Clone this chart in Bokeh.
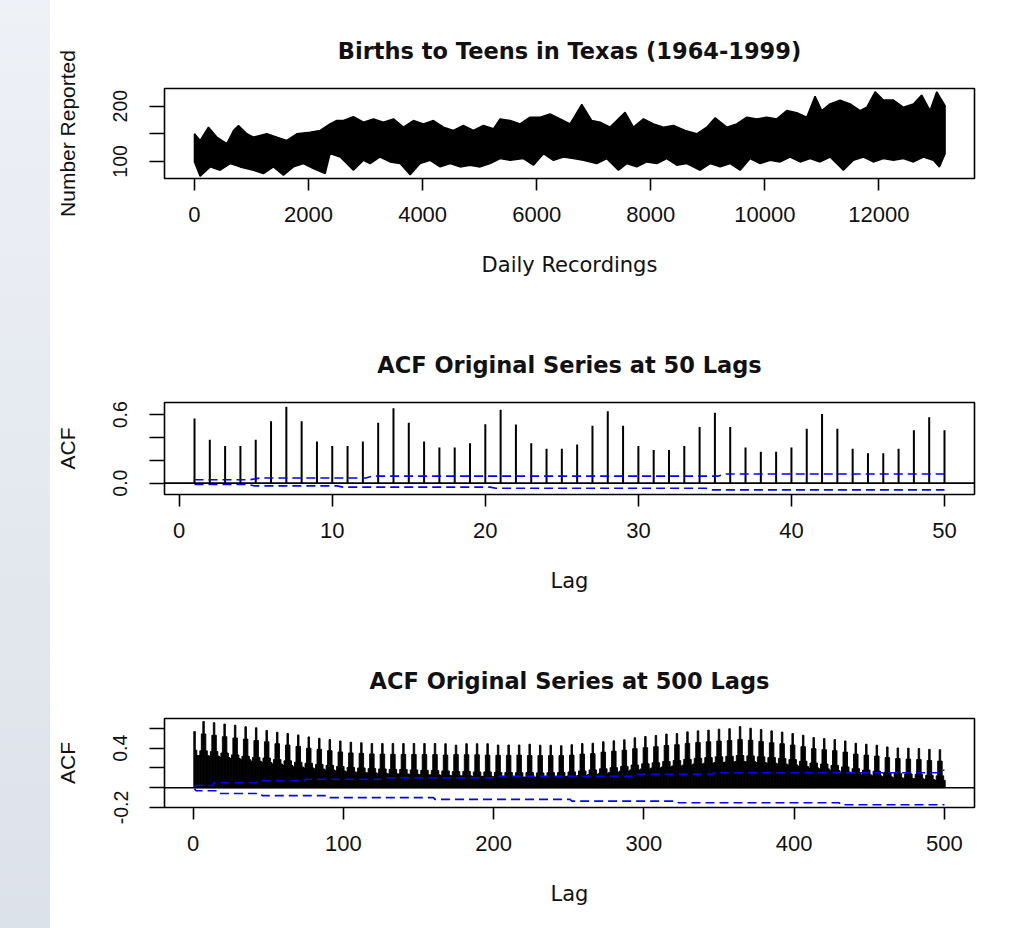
from bokeh.plotting import figure
from bokeh.layouts import row, column
from bokeh.models import Div, Span, FixedTicker, Range1d
from bokeh.embed import file_html
from bokeh.resources import INLINE

# ---------------- Data ----------------
# Top panel: daily teen births, read as upper / lower envelope of the dense series
up_day = [0, 100, 246, 392, 567, 684, 772, 918, 1034, 1268, 1444, 1619, 1794, 2028, 2203,
          2378, 2495, 2612, 2787, 2963, 3138, 3313, 3489, 3664, 3839, 4014, 4190, 4365,
          4540, 4715, 4891, 5066, 5241, 5358, 5534, 5709, 5884, 6060, 6235, 6410, 6585,
          6790, 6966, 7112, 7287, 7550, 7696, 7872, 8047, 8222, 8397, 8602, 8806, 8982,
          9128, 9332, 9508, 9683, 9858, 10033, 10209, 10384, 10559, 10734, 10880, 10997,
          11143, 11319, 11494, 11669, 11786, 11932, 12078, 12254, 12429, 12604, 12750,
          12896, 13013, 13159]
up_val = [150, 138, 162, 144, 132, 156, 165, 150, 144, 150, 144, 138, 150, 153, 156,
          168, 174, 174, 181, 171, 177, 171, 177, 162, 174, 168, 174, 162,
          156, 165, 156, 165, 159, 177, 174, 168, 180, 180, 186, 177, 168,
          203, 174, 171, 162, 189, 162, 177, 168, 162, 165, 156, 150, 162,
          179, 162, 168, 180, 177, 180, 177, 192, 188, 180, 218, 192,
          204, 211, 204, 192, 198, 226, 211, 211, 198, 204, 220,
          192, 226, 201]
lo_day = [0, 100, 275, 450, 626, 801, 1034, 1210, 1385, 1560, 1736, 1911, 2086, 2291,
          2378, 2554, 2671, 2787, 2963, 3080, 3255, 3430, 3606, 3781, 3956, 4132, 4307,
          4482, 4657, 4833, 5008, 5183, 5358, 5534, 5768, 5943, 6118, 6294, 6469, 6644,
          6819, 7053, 7229, 7433, 7579, 7754, 7930, 8105, 8280, 8456, 8631, 8865, 9040,
          9216, 9391, 9566, 9741, 9917, 10092, 10267, 10443, 10618, 10793, 10968, 11143,
          11377, 11552, 11728, 11903, 12078, 12254, 12429, 12604, 12779, 12954, 13060,
          13159]
lo_val = [99, 73, 90, 84, 96, 90, 84, 78, 90, 75, 90, 96, 87, 78,
          114, 108, 96, 84, 102, 96, 108, 99, 96, 76, 96, 102, 90,
          96, 90, 93, 90, 96, 105, 102, 105, 93, 114, 102, 108, 105,
          102, 96, 105, 84, 96, 90, 99, 96, 105, 93, 96, 84, 96,
          90, 96, 84, 105, 96, 102, 99, 108, 99, 105, 99, 108,
          84, 102, 108, 99, 105, 102, 105, 99, 108, 102, 90,
          114]

# Middle panel: ACF at lags 1..50
lags50 = list(range(1, 51))
acf50 = [0.568, 0.380, 0.325, 0.325, 0.380, 0.544, 0.670, 0.544, 0.366, 0.325,
         0.325, 0.366, 0.530, 0.658, 0.530, 0.366, 0.313, 0.313, 0.351, 0.518,
         0.644, 0.515, 0.351, 0.301, 0.301, 0.339, 0.503, 0.632, 0.503, 0.325,
         0.290, 0.290, 0.325, 0.492, 0.617, 0.492, 0.313, 0.275, 0.275, 0.313,
         0.477, 0.606, 0.477, 0.301, 0.263, 0.263, 0.301, 0.465, 0.579, 0.465]
ci50_up_lag = [1, 4.6, 5.3, 12.2, 12.6, 35.2, 35.6, 50]
ci50_up = [0.029, 0.029, 0.045, 0.045, 0.061, 0.061, 0.080, 0.080]
ci50_lo_lag = [1, 4.5, 4.9, 10.3, 10.7, 20.3, 20.7, 34.4, 34.8, 50]
ci50_lo = [-0.012, -0.012, -0.024, -0.024, -0.035, -0.035, -0.045, -0.045, -0.059, -0.059]

# Bottom panel: ACF at lags 1..500, read week by week
# peak at lag 7k (k = 1..71), shoulder at 7k+-1, mid at 7k+-2, low at 7k+-3 (k = 0..71)
peak500 = [0.670, 0.658, 0.644, 0.632, 0.617, 0.606, 0.579, 0.561, 0.548, 0.534,
           0.514, 0.500, 0.487, 0.473, 0.460, 0.455, 0.447, 0.447, 0.447, 0.447,
           0.447, 0.447, 0.447, 0.445, 0.430, 0.445, 0.445, 0.445, 0.432, 0.432,
           0.432, 0.440, 0.430, 0.430, 0.425, 0.435, 0.447, 0.450, 0.465, 0.475,
           0.485, 0.505, 0.518, 0.528, 0.543, 0.548, 0.565, 0.575, 0.582, 0.592,
           0.597, 0.618, 0.602, 0.589, 0.575, 0.563, 0.548, 0.531, 0.507, 0.497,
           0.487, 0.473, 0.450, 0.440, 0.430, 0.413, 0.402, 0.400, 0.396, 0.388,
           0.385]
shoulder500 = [0.568, 0.544, 0.530, 0.516, 0.503, 0.492, 0.477, 0.465, 0.445, 0.432,
               0.418, 0.400, 0.388, 0.375, 0.362, 0.352, 0.348, 0.342, 0.340, 0.338,
               0.338, 0.336, 0.336, 0.335, 0.330, 0.335, 0.334, 0.333, 0.330, 0.328,
               0.328, 0.330, 0.326, 0.325, 0.325, 0.325, 0.330, 0.340, 0.345, 0.360,
               0.370, 0.380, 0.395, 0.405, 0.415, 0.428, 0.435, 0.448, 0.457, 0.465,
               0.472, 0.478, 0.488, 0.480, 0.468, 0.455, 0.445, 0.432, 0.415, 0.395,
               0.385, 0.375, 0.360, 0.340, 0.330, 0.320, 0.305, 0.295, 0.290, 0.285,
               0.275, 0.270]
mid500 = [0.380, 0.373, 0.366, 0.351, 0.332, 0.318, 0.307, 0.300, 0.285, 0.272,
          0.258, 0.247, 0.236, 0.226, 0.215, 0.205, 0.200, 0.195, 0.190, 0.186,
          0.185, 0.180, 0.176, 0.175, 0.170, 0.163, 0.165, 0.160, 0.160, 0.155,
          0.154, 0.152, 0.153, 0.150, 0.152, 0.153, 0.160, 0.170, 0.180, 0.192,
          0.203, 0.216, 0.230, 0.242, 0.253, 0.265, 0.275, 0.287, 0.297, 0.305,
          0.313, 0.318, 0.326, 0.322, 0.313, 0.305, 0.296, 0.285, 0.268, 0.250,
          0.240, 0.225, 0.210, 0.193, 0.178, 0.167, 0.155, 0.145, 0.140, 0.135,
          0.126, 0.120]
low500 = [0.325, 0.325, 0.320, 0.305, 0.295, 0.283, 0.268, 0.255, 0.240, 0.225,
          0.210, 0.200, 0.190, 0.180, 0.170, 0.160, 0.155, 0.150, 0.145, 0.140,
          0.140, 0.135, 0.130, 0.130, 0.125, 0.120, 0.120, 0.115, 0.115, 0.110,
          0.110, 0.108, 0.108, 0.108, 0.110, 0.112, 0.118, 0.125, 0.135, 0.145,
          0.155, 0.168, 0.180, 0.190, 0.200, 0.210, 0.220, 0.230, 0.240, 0.248,
          0.255, 0.260, 0.265, 0.262, 0.255, 0.248, 0.240, 0.230, 0.215, 0.200,
          0.190, 0.175, 0.160, 0.145, 0.130, 0.120, 0.110, 0.100, 0.095, 0.090,
          0.082, 0.075]
ci500_up_lag = [1, 2, 13, 14, 42, 43, 74, 75, 125, 126, 202, 203, 295, 296, 346, 347, 496, 497, 500]
ci500_up = [0.013, 0.022, 0.022, 0.050, 0.050, 0.070, 0.070, 0.085, 0.085, 0.100, 0.100,
            0.115, 0.115, 0.135, 0.135, 0.152, 0.152, 0.176, 0.176]
ci500_lo_lag = [1, 2, 16, 17, 45, 46, 90, 91, 160, 161, 251, 252, 322, 323, 430, 431, 500]
ci500_lo = [-0.010, -0.030, -0.030, -0.058, -0.058, -0.080, -0.080, -0.100, -0.100,
            -0.118, -0.118, -0.136, -0.136, -0.152, -0.152, -0.172, -0.172]

# table of the 500 lags, built from the weekly readings
lags500 = list(range(1, 501))
acf500 = []
for L in lags500:
    k = int(round(L / 7))
    d = abs(L - 7 * k)
    if d == 0:
        acf500.append(peak500[k - 1])
    elif d == 1:
        acf500.append(shoulder500[k])
    elif d == 2:
        acf500.append(mid500[k])
    else:
        acf500.append(low500[k])

# ---------------- Styling helpers ----------------
TICK_FONT = "Liberation Sans"
TXT = "#111111"


def base_fig(height, top, bottom, title, xr, yr, xticks, yticks, ylab_over, xlabel, ylabel):
    p = figure(width=981, height=height, min_border_left=114, min_border_right=57,
               min_border_top=top, min_border_bottom=bottom,
               x_range=Range1d(*xr), y_range=Range1d(*yr),
               toolbar_location=None, output_backend="svg", title=title)
    p.background_fill_color = "white"
    p.border_fill_color = "white"
    p.outline_line_color = "black"
    p.outline_line_width = 1.6
    p.xgrid.visible = False
    p.ygrid.visible = False
    p.title.text_font = "DejaVu Sans"
    p.title.text_font_style = "bold"
    p.title.text_font_size = "22.5px"
    p.title.text_color = TXT
    p.title.align = "center"
    p.title.standoff = 50

    ax = p.xaxis[0]
    ax.ticker = FixedTicker(ticks=xticks)
    ax.axis_line_color = None
    ax.major_tick_in = 0
    ax.major_tick_out = 12
    ax.major_tick_line_width = 1.6
    ax.major_tick_line_color = "black"
    ax.minor_tick_line_color = None
    ax.major_label_text_font = TICK_FONT
    ax.major_label_text_font_size = "22px"
    ax.major_label_text_color = TXT
    ax.major_label_standoff = 16
    ax.axis_label = xlabel
    ax.axis_label_text_font = "DejaVu Sans"
    ax.axis_label_text_font_size = "21px"
    ax.axis_label_text_font_style = "normal"
    ax.axis_label_text_color = TXT
    ax.axis_label_standoff = 28

    ay = p.yaxis[0]
    ay.ticker = FixedTicker(ticks=yticks)
    ay.major_label_overrides = ylab_over
    ay.axis_line_color = None
    ay.major_tick_in = 0
    ay.major_tick_out = 15
    ay.major_tick_line_width = 1.6
    ay.major_tick_line_color = "black"
    ay.minor_tick_line_color = None
    ay.major_label_orientation = "vertical"
    ay.major_label_text_font = TICK_FONT
    ay.major_label_text_font_size = "19.5px"
    ay.major_label_text_color = TXT
    ay.major_label_standoff = 22
    ay.axis_label = ylabel
    ay.axis_label_text_font = "Liberation Sans"
    ay.axis_label_text_font_size = "21px"
    ay.axis_label_text_font_style = "normal"
    ay.axis_label_text_color = TXT
    ay.axis_label_standoff = 32
    return p


# ---------------- Panel 1 ----------------
p1 = base_fig(300, 88, 122, "Births to Teens in Texas (1964-1999)",
              (-525, 13675), (69, 232),
              [0, 2000, 4000, 6000, 8000, 10000, 12000], [100, 150, 200],
              {100: "100", 150: "", 200: "200"},
              "Daily Recordings", "Number Reported")
band_x = up_day + lo_day[::-1]
band_y = up_val + lo_val[::-1]
p1.patch(band_x, band_y, fill_color="black", line_color="black", line_width=1.5)

# ---------------- Panel 2 ----------------
p2 = base_fig(320, 102, 126, "ACF Original Series at 50 Lags",
              (-0.96, 51.96), (-0.10, 0.708),
              [0, 10, 20, 30, 40, 50], [0, 0.2, 0.4, 0.6],
              {0: "0.0", 0.2: "", 0.4: "", 0.6: "0.6"},
              "Lag", "ACF")
p2.segment(x0=lags50, y0=[0] * len(lags50), x1=lags50, y1=acf50,
           line_color="black", line_width=2)
p2.add_layout(Span(location=0, dimension="width", line_color="black", line_width=1.6))
p2.line(ci50_up_lag, ci50_up, line_color="blue", line_width=1.6, line_dash="9 5")
p2.line(ci50_lo_lag, ci50_lo, line_color="blue", line_width=1.6, line_dash="9 5")

# ---------------- Panel 3 ----------------
p3 = base_fig(308, 98, 121, "ACF Original Series at 500 Lags",
              (-19, 520), (-0.2, 0.70),
              [0, 100, 200, 300, 400, 500], [-0.2, 0, 0.2, 0.4, 0.6],
              {-0.2: "-0.2", 0: "", 0.2: "", 0.4: "0.4", 0.6: ""},
              "Lag", "ACF")
p3.vbar(x=lags500, top=acf500, bottom=0, width=1.0,
        fill_color="black", line_color="black", line_width=0.9)
p3.add_layout(Span(location=0, dimension="width", line_color="black", line_width=1.6))
p3.line(ci500_up_lag, ci500_up, line_color="blue", line_width=1.6, line_dash="9 5")
p3.line(ci500_lo_lag, ci500_lo, line_color="blue", line_width=1.6, line_dash="9 5")

strip = Div(text="", width=50, height=928, margin=(0, 0, 0, 0),
            styles={"background": "linear-gradient(#eef1f6, #dce2ea)"})

layout = row(strip, column(p1, p2, p3, spacing=0), spacing=0)

open("out.html", "w").write(file_html(layout, INLINE))
